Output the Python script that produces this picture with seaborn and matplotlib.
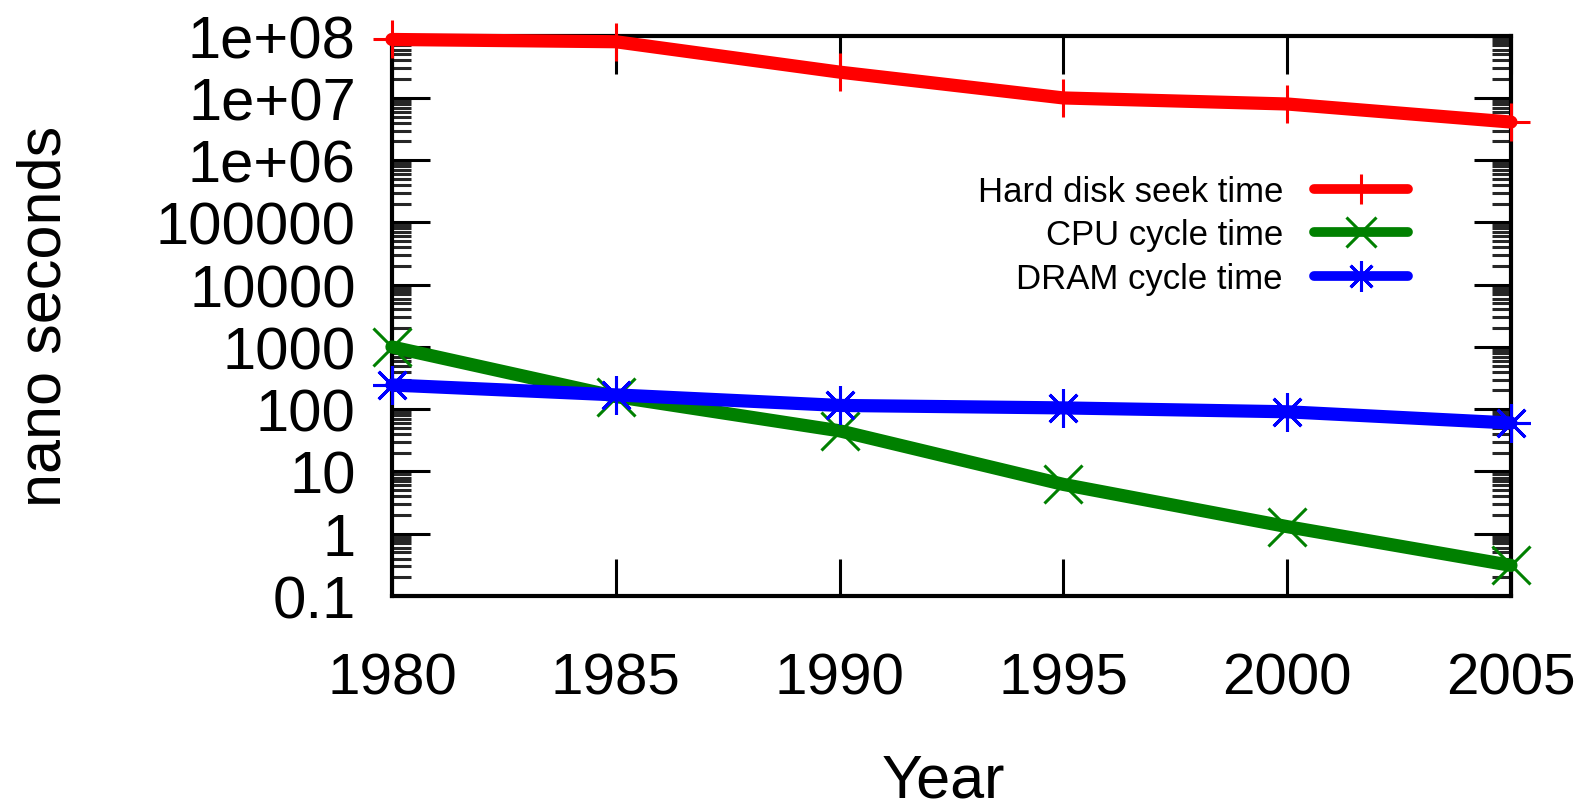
import numpy as np
import pandas as pd
import matplotlib
matplotlib.use('Agg')
import matplotlib.pyplot as plt
import matplotlib.ticker as mticker
import seaborn as sns

# values (nano seconds)
years = [1980, 1985, 1990, 1995, 2000, 2005]
disk_seek = [8.7e7, 8.0e7, 2.6e7, 1.0e7, 8.0e6, 4.1e6]
cpu_cycle = [1000, 160, 45, 6.2, 1.3, 0.31]
dram_cycle = [245, 170, 115, 105, 91, 60]

labels = ['Hard disk seek time', 'CPU cycle time', 'DRAM cycle time']
colors = ['#ff0000', '#008000', '#0000ff']
markers = ['+', 'x', (8, 2, 0)]

df = pd.DataFrame({'Year': years,
                   labels[0]: disk_seek,
                   labels[1]: cpu_cycle,
                   labels[2]: dram_cycle})
long_df = df.melt(id_vars='Year', var_name='series', value_name='ns')

sns.set_style('ticks')
plt.rcParams['font.family'] = ['Liberation Sans', 'DejaVu Sans']
plt.rcParams['text.color'] = 'black'
plt.rcParams['axes.labelcolor'] = 'black'

fig = plt.figure(figsize=(15.83, 8.12), dpi=100)
ax = fig.add_axes([0.2476, 0.2648, 0.7069, 0.6900])

for lab, col, mk in zip(labels, colors, markers):
    sub = long_df[long_df['series'] == lab]
    sns.lineplot(data=sub, x='Year', y='ns', ax=ax, color=col, lw=9.5,
                 marker=mk, ms=28, mew=2.2, mec=col, label=lab,
                 clip_on=False, zorder=3)

ax.set_yscale('log')
ax.set_xlim(1980, 2005)
ax.set_ylim(0.1, 1e8)
ax.set_xticks(years)
ax.yaxis.set_major_locator(mticker.LogLocator(base=10, numticks=20))
ax.yaxis.set_minor_locator(mticker.LogLocator(base=10, subs=np.arange(2, 10), numticks=20))
ax.yaxis.set_major_formatter(mticker.FuncFormatter(lambda v, p: '%g' % v))
ax.yaxis.set_minor_formatter(mticker.NullFormatter())

for s in ax.spines.values():
    s.set_linewidth(3)
    s.set_color('black')
ax.tick_params(which='major', direction='in', length=27, width=2.2,
               top=True, right=True, labelsize=43, colors='black')
ax.tick_params(which='minor', direction='in', length=14, width=2.2,
               top=False, right=True)
ax.tick_params(axis='y', which='major', pad=26)
ax.tick_params(axis='x', which='major', pad=40, labelsize=42)

ax.set_xlabel('Year', fontsize=44)
ax.set_ylabel('nano seconds', fontsize=44)
ax.xaxis.set_label_coords(0.493, -0.28)
ax.yaxis.set_label_coords(-0.285, 0.5)

leg = ax.legend(loc='upper right', bbox_to_anchor=(1408 / 1583, 1 - 176 / 812),
                bbox_transform=fig.transFigure, frameon=False, fontsize=25,
                markerfirst=False, handlelength=2.7, handletextpad=0.9,
                labelspacing=0.3, borderpad=0, borderaxespad=0)
for h in leg.get_lines():
    h.set_linewidth(7)
    h.set_markersize(22)

fig.savefig('out.png', dpi=100)
